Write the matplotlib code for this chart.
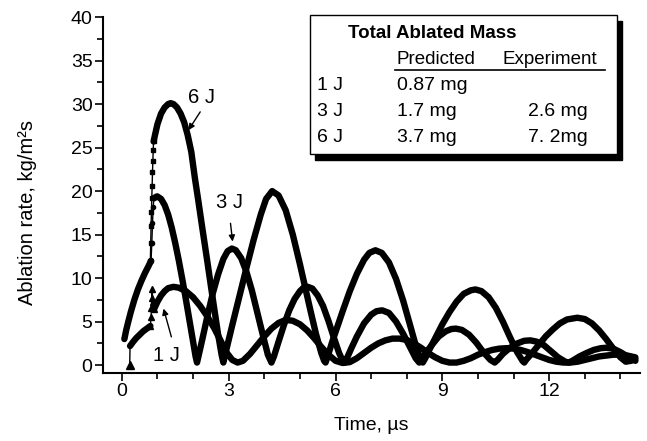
import matplotlib
matplotlib.use('Agg')
import matplotlib.pyplot as plt
from matplotlib.patches import Rectangle
from matplotlib.lines import Line2D

plt.rcParams['font.family'] = ['Liberation Sans', 'DejaVu Sans']

# ---- 6 J ----
t6_jump = [0.80, 0.81, 0.82, 0.83, 0.84, 0.85, 0.86, 0.87, 0.88, 0.89]
v6_jump = [12.0, 14.0, 16.0, 17.6, 19.2, 20.6, 22.2, 23.4, 24.7, 25.7]
t6 = [0.89, 0.95, 1.0, 1.1, 1.2, 1.3, 1.37, 1.45, 1.55, 1.65, 1.75, 1.85, 1.95,
      2.05, 2.15, 2.25, 2.4, 2.55, 2.7, 2.8, 2.85, 2.9, 3.0, 3.1, 3.3, 3.5, 3.7,
      3.9, 4.05, 4.22, 4.4, 4.6, 4.8, 5.0, 5.15, 5.3, 5.45, 5.6, 5.68, 5.72, 5.78,
      5.9, 6.0, 6.2, 6.4, 6.6, 6.8, 6.95, 7.12, 7.3, 7.5, 7.7, 7.9, 8.1, 8.25,
      8.38, 8.45, 8.52, 8.6, 8.8, 9.0, 9.2, 9.4, 9.6, 9.8, 9.93, 10.1, 10.3, 10.5,
      10.7, 10.9, 11.1, 11.25, 11.3, 11.35, 11.5, 11.7, 11.9, 12.1, 12.3, 12.5,
      12.79, 13.0, 13.2, 13.4, 13.6, 13.8, 14.0, 14.15, 14.3, 14.42]
v6 = [25.7, 26.8, 27.7, 28.9, 29.6, 30.0, 30.1, 30.0, 29.6, 28.9, 27.9, 26.4, 24.5,
      21.5, 18.8, 16.0, 11.9, 7.7, 3.6, 1.2, 0.3, 1.2, 2.9, 4.6, 7.9, 11.2, 14.4,
      17.3, 19.1, 20.0, 19.5, 17.8, 15.0, 11.6, 8.9, 6.2, 3.6, 1.4, 0.5, 0.3, 1.0,
      2.6, 3.8, 6.2, 8.5, 10.5, 12.1, 12.9, 13.2, 12.9, 11.8, 9.9, 7.4, 4.5, 2.3,
      0.8, 0.3, 0.8, 1.5, 3.1, 4.7, 6.1, 7.3, 8.2, 8.6, 8.7, 8.5, 7.8, 6.6,
      5.0, 3.2, 1.5, 0.5, 0.3, 0.6, 1.3, 2.3, 3.3, 4.1, 4.8, 5.25,
      5.45, 5.3, 4.8, 4.0, 3.0, 1.9, 0.9, 0.4, 0.5, 0.7]

# ---- 3 J ----
t3_early = [0.07, 0.12, 0.18, 0.25, 0.35, 0.45, 0.55, 0.65, 0.75, 0.82]
v3_early = [3.0, 4.0, 5.0, 6.1, 7.5, 8.7, 9.7, 10.6, 11.4, 12.0]
t3_jump = [0.82, 0.84, 0.86, 0.88, 0.90]
v3_jump = [12.0, 14.0, 16.3, 18.2, 19.2]
t3 = [0.9, 0.99, 1.1, 1.2, 1.3, 1.4, 1.5, 1.6, 1.7, 1.8, 1.9, 2.0, 2.07, 2.11, 2.15,
      2.25, 2.4, 2.55, 2.7, 2.85, 2.97, 3.09, 3.2, 3.35, 3.5, 3.65, 3.8, 3.95, 4.1,
      4.2, 4.27, 4.4, 4.55, 4.7, 4.85, 5.0, 5.1, 5.22, 5.35, 5.5, 5.65, 5.8, 5.95,
      6.1, 6.2, 6.25, 6.32, 6.45, 6.6, 6.8, 7.0, 7.15, 7.31, 7.5, 7.7, 7.9, 8.1,
      8.25, 8.35, 8.42, 8.55, 8.7, 8.9, 9.1, 9.25, 9.38, 9.55, 9.75, 9.95, 10.15,
      10.35, 10.47, 10.55, 10.7, 10.9, 11.1, 11.3, 11.47, 11.65, 11.85, 12.05,
      12.25, 12.45, 12.55, 12.65, 12.85, 13.05, 13.25, 13.45, 13.6, 13.8, 14.0,
      14.2, 14.42]
v3 = [19.2, 19.4, 19.1, 18.4, 17.3, 15.8, 14.0, 12.0, 9.8, 7.5, 5.1, 2.7, 1.0, 0.3, 1.0,
      2.8, 5.6, 8.2, 10.4, 12.2, 13.1, 13.4, 13.2, 12.3, 10.7, 8.6, 6.1, 3.6, 1.2,
      0.3, 1.0, 2.7, 4.6, 6.3, 7.6, 8.5, 8.9, 9.0, 8.8, 8.0, 6.8, 5.1, 3.2,
      1.4, 0.5, 0.3, 0.8, 2.0, 3.3, 4.8, 5.8, 6.2, 6.3, 6.0, 5.0, 3.6, 2.0,
      0.8, 0.3, 0.7, 1.5, 2.3, 3.3, 3.9, 4.15, 4.2, 4.05, 3.5, 2.6, 1.5,
      0.6, 0.3, 0.6, 1.3, 2.0, 2.5, 2.8, 2.85, 2.7, 2.3, 1.6,
      0.9, 0.4, 0.3, 0.5, 1.0, 1.4, 1.75, 1.95, 2.0, 1.9, 1.5,
      1.0, 0.5]

# ---- 1 J ----
t1_start = [0.22, 0.23]
v1_start = [0.0, 2.2]
t1_early = [0.23, 0.3, 0.4, 0.5, 0.6, 0.7, 0.8]
v1_early = [2.2, 2.6, 3.1, 3.5, 3.9, 4.2, 4.5]
t1_jump = [0.80, 0.82, 0.83, 0.84, 0.85, 0.87, 0.90]
v1_jump = [4.5, 5.5, 6.6, 7.7, 8.8, 7.2, 6.4]
t1 = [0.9, 1.0, 1.1, 1.2, 1.3, 1.45, 1.6, 1.8, 2.0, 2.2, 2.4, 2.6, 2.8, 2.95, 3.1,
      3.25, 3.4, 3.6, 3.8, 4.0, 4.2, 4.4, 4.6, 4.8, 5.0, 5.2, 5.4, 5.6, 5.8, 6.0,
      6.2, 6.4, 6.6, 6.8, 7.0, 7.2, 7.4, 7.6, 7.8, 8.0, 8.2, 8.4, 8.6, 8.8, 9.0,
      9.2, 9.4, 9.6, 9.8, 10.0, 10.2, 10.4, 10.6, 10.8, 11.0, 11.2, 11.4, 11.6,
      11.8, 12.0, 12.2, 12.4, 12.6, 12.8, 13.0, 13.2, 13.4, 13.6, 13.8, 14.0,
      14.2, 14.42]
v1 = [6.4, 7.3, 8.0, 8.5, 8.85, 9.0, 8.9, 8.5, 7.8, 6.8, 5.6, 4.2, 2.6, 1.4, 0.6,
      0.3, 0.5, 1.3, 2.3, 3.3, 4.2, 4.85, 5.2, 5.1, 4.7, 4.0, 3.1, 2.1, 1.2, 0.5,
      0.25, 0.35, 0.8, 1.4, 2.0, 2.5, 2.85, 3.05, 3.05, 2.9, 2.5, 2.0, 1.4, 0.9, 0.5,
      0.3, 0.3, 0.5, 0.8, 1.2, 1.5, 1.75, 1.9, 1.95, 1.9, 1.75, 1.5, 1.2,
      0.9, 0.6, 0.4, 0.3, 0.3, 0.4, 0.6, 0.8, 1.0, 1.1, 1.2, 1.2,
      1.1, 0.9]

# table contents
table_title = 'Total Ablated Mass'
col_heads = ['Predicted', 'Experiment']
row_labels = ['1 J', '3 J', '6 J']
predicted = ['0.87 mg', '1.7 mg', '3.7 mg']
experiment = ['', '2.6 mg', '7. 2mg']

fig = plt.figure(figsize=(6.47, 4.41), dpi=100)
ax = fig.add_axes([103 / 647, 68 / 441, 537 / 647, 356 / 441])

thick = dict(color='black', lw=4.6, solid_capstyle='round', solid_joinstyle='round')
thin = dict(color='black', lw=1)

# 6 J
ax.plot(t6_jump, v6_jump, marker='s', ms=3.5, **thin)
ax.plot(t6, v6, **thick)
# 3 J
ax.plot(t3_early, v3_early, **thick)
ax.plot(t3_jump, v3_jump, marker='o', ms=3, **thin)
ax.plot(t3, v3, **thick)
# 1 J
ax.plot(t1_start, v1_start, marker='^', ms=6, markevery=[0], **thin)
ax.plot(t1_early, v1_early, **thick)
ax.plot(t1_jump, v1_jump, marker='^', ms=4.5, **thin)
ax.plot(t1, v1, **thick)

ax.set_xlim(-0.53, 14.55)
ax.set_ylim(-0.9, 40)
ax.spines['top'].set_visible(False)
ax.spines['right'].set_visible(False)
for s in ['left', 'bottom']:
    ax.spines[s].set_linewidth(1.5)

ax.set_xticks([0, 3, 6, 9, 12])
ax.set_xticks([1, 2, 4, 5, 7, 8, 10, 11, 13, 14], minor=True)
ax.set_yticks(range(0, 41, 5))
ax.set_yticks([2.5 + 5 * i for i in range(8)], minor=True)
ax.tick_params(which='major', direction='out', length=5.5, width=1.2, labelsize=14, pad=2)
ax.tick_params(which='minor', direction='out', length=4, width=1.2)

ax.set_xlabel('Time, µs', fontsize=14)
ax.set_ylabel('Ablation rate, kg/m²s', fontsize=14.5)
ax.xaxis.set_label_coords(0.5, -0.125)
ax.yaxis.set_label_coords(-0.123, 0.45)

# curve labels
arrow = dict(arrowstyle='-|>', color='black', lw=1, mutation_scale=9, shrinkA=0, shrinkB=0)
ax.text(2.23, 30.8, '6 J', fontsize=14.5, ha='center', va='center')
ax.annotate('', xy=(1.87, 27.0), xytext=(2.2, 29.1), arrowprops=arrow)
ax.text(3.02, 18.7, '3 J', fontsize=14.5, ha='center', va='center')
ax.annotate('', xy=(3.11, 14.2), xytext=(3.05, 16.3), arrowprops=arrow)
ax.text(1.26, 1.1, '1 J', fontsize=14.5, ha='center', va='center')
ax.annotate('', xy=(1.17, 6.5), xytext=(1.39, 3.25), arrowprops=arrow)

# inset table box with shadow
W, H = 647.0, 441.0
def fx(px):
    return px / W
def fy(py):
    return 1 - py / H

fig.patches.append(Rectangle((fx(315), fy(160)), (617 - 310) / W, (154 - 15) / H,
                             transform=fig.transFigure, facecolor='black', edgecolor='black'))
fig.patches.append(Rectangle((fx(310), fy(154)), (617 - 310) / W, (154 - 15) / H,
                             transform=fig.transFigure, facecolor='white', edgecolor='black', lw=1))

fig.text(fx(348), fy(33), table_title, fontsize=13.5, fontweight='bold', ha='left', va='center')
fig.text(fx(397), fy(60), col_heads[0], fontsize=13.5, ha='left', va='center')
fig.text(fx(503), fy(60), col_heads[1], fontsize=13.5, ha='left', va='center')
fig.lines.append(Line2D([fx(395), fx(605)], [fy(70), fy(70)], transform=fig.transFigure,
                        color='black', lw=1.2))
for i, ypx in enumerate([85, 112, 138]):
    fig.text(fx(317), fy(ypx), row_labels[i], fontsize=14, ha='left', va='center')
    fig.text(fx(397), fy(ypx), predicted[i], fontsize=14, ha='left', va='center')
    fig.text(fx(528), fy(ypx), experiment[i], fontsize=14, ha='left', va='center')

fig.savefig('out.png', dpi=100)
